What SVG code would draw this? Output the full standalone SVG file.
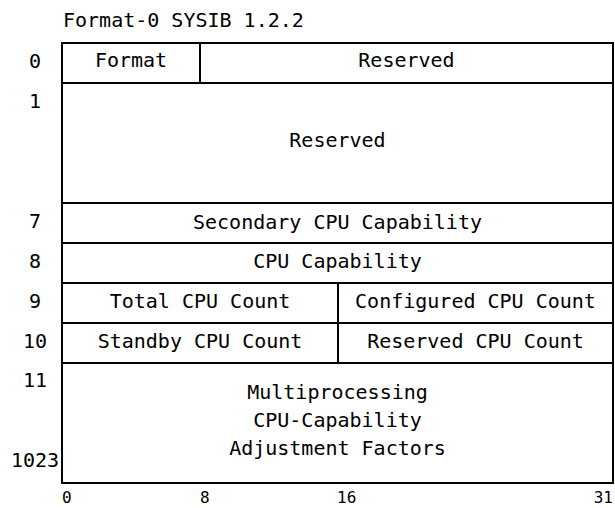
<svg xmlns="http://www.w3.org/2000/svg" width="615" height="508" viewBox="0 0 615 508">
<style>
  .f { fill: #ffffff; stroke: #000000; stroke-width: 2; }
  .t { font-family: "DejaVu Sans Mono", "Liberation Mono", monospace; font-size: 20px; fill: #000000; text-anchor: middle; }
  .title { font-family: "DejaVu Sans Mono", "Liberation Mono", monospace; font-size: 20px; fill: #000000; }
  .b { font-family: "DejaVu Sans Mono", "Liberation Mono", monospace; font-size: 16px; fill: #000000; }
</style>
<rect x="0" y="0" width="615" height="508" fill="#ffffff"/>
<text class="title" x="63" y="27">Format-0 SYSIB 1.2.2</text>

<g id="row-labels">
  <text class="t" x="35" y="67.5">0</text>
  <text class="t" x="35" y="108">1</text>
  <text class="t" x="35" y="228">7</text>
  <text class="t" x="35" y="268">8</text>
  <text class="t" x="35" y="308">9</text>
  <text class="t" x="35" y="348">10</text>
  <text class="t" x="35" y="387">11</text>
  <text class="t" x="35" y="467">1023</text>
</g>

<g id="field-format">
  <rect class="f" x="62" y="43" width="138" height="40"/>
  <text class="t" x="131" y="67">Format</text>
</g>
<g id="field-reserved-0">
  <rect class="f" x="200" y="43" width="413" height="40"/>
  <text class="t" x="406.5" y="67">Reserved</text>
</g>
<g id="field-reserved-1">
  <rect class="f" x="62" y="83" width="551" height="120"/>
  <text class="t" x="337.5" y="147">Reserved</text>
</g>
<g id="field-secondary-cpu-capability">
  <rect class="f" x="62" y="203" width="551" height="40"/>
  <text class="t" x="337.5" y="228.5">Secondary CPU Capability</text>
</g>
<g id="field-cpu-capability">
  <rect class="f" x="62" y="243" width="551" height="40"/>
  <text class="t" x="337.5" y="268">CPU Capability</text>
</g>
<g id="field-total-cpu-count">
  <rect class="f" x="62" y="283" width="276" height="40"/>
  <text class="t" x="200" y="308">Total CPU Count</text>
</g>
<g id="field-configured-cpu-count">
  <rect class="f" x="338" y="283" width="275" height="40"/>
  <text class="t" x="475.5" y="308">Configured CPU Count</text>
</g>
<g id="field-standby-cpu-count">
  <rect class="f" x="62" y="323" width="276" height="40"/>
  <text class="t" x="200" y="348">Standby CPU Count</text>
</g>
<g id="field-reserved-cpu-count">
  <rect class="f" x="338" y="323" width="275" height="40"/>
  <text class="t" x="475.5" y="348">Reserved CPU Count</text>
</g>
<g id="field-mp-adjustment-factors">
  <rect class="f" x="62" y="363" width="551" height="120"/>
  <text class="t" x="337.5" y="399">Multiprocessing</text>
  <text class="t" x="337.5" y="427">CPU-Capability</text>
  <text class="t" x="337.5" y="455">Adjustment Factors</text>
</g>

<g id="bit-labels">
  <text class="b" x="62" y="502.5">0</text>
  <text class="b" x="200" y="502.5">8</text>
  <text class="b" x="337" y="502.5">16</text>
  <text class="b" x="613" y="502.5" text-anchor="end">31</text>
</g>
</svg>
